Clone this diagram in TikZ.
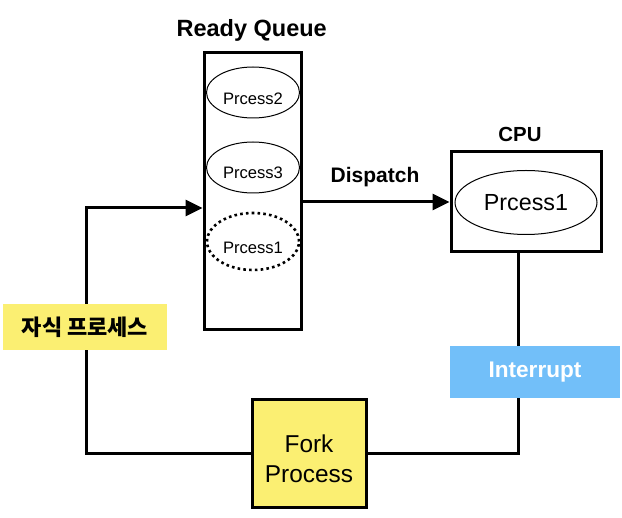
\documentclass[tikz,border=0pt]{standalone}
\usepackage{fontspec}
\setmainfont{Liberation Sans}
\newfontfamily\krfont{Noto Sans CJK KR}
\usetikzlibrary{arrows.meta,shapes.geometric}
\definecolor{yel}{RGB}{251,239,114}
\definecolor{sky}{RGB}{114,191,249}
\tikzset{
  thickbox/.style={draw, line width=3pt, rectangle, inner sep=0pt},
  proc/.style={draw, ellipse, line width=1pt, inner sep=0pt},
  ptext/.style={inner sep=0pt, font=\fontsize{16.6}{19}\selectfont},
  conn/.style={line width=3pt},
  tip/.style={-{Triangle[length=17pt,width=16pt]}},
  title/.style={inner sep=0pt, anchor=base, font=\bfseries\fontsize{21}{25}\selectfont},
}
\begin{document}
\begin{tikzpicture}[x=1pt,y=-1pt]
\useasboundingbox (0,0) rectangle (622,518);
% ready queue
\node[thickbox, minimum width=97pt, minimum height=277pt] (rq) at (252.5,191.5) {};
\node[title, font=\bfseries\fontsize{23.5}{28}\selectfont] (rql) at (251.7,37) {Ready Queue};
\node[proc, minimum width=93pt, minimum height=51pt] (p2) at (253,92.5) {};
\node[ptext] (p2t) at (253,99) {Prcess2};
\node[proc, minimum width=93pt, minimum height=51pt] (p3) at (253,167.5) {};
\node[ptext] (p3t) at (253,173) {Prcess3};
\node[proc, line width=2.6pt, dash pattern=on 2.6pt off 3.2pt, minimum width=92pt, minimum height=57pt] (p1) at (253,241.5) {};
\node[ptext] (p1t) at (253,248) {Prcess1};
% cpu
\node[thickbox, minimum width=150pt, minimum height=100pt] (cpu) at (526,202) {};
\node[title, font=\bfseries\fontsize{20.4}{24}\selectfont] (cpul) at (520,142) {CPU};
\node[proc, minimum width=142pt, minimum height=64pt, font=\fontsize{23.3}{27}\selectfont] (cp1) at (526,202.5) {Prcess1};
% fork
\node[thickbox, fill=yel, minimum width=114pt, minimum height=108pt] (fork) at (309,454) {};
\node[inner sep=0pt, align=center, font=\fontsize{24.4}{29.5}\selectfont] (forkt) at (309,459) {Fork\\Process};
% connectors
\draw[conn, tip] (rq.east |- cpu.west) -- (cpu.west);
\node[title] (dl) at (375,183) {Dispatch};
\coordinate (rc) at (518,454);
\draw[conn] (cpu.south -| rc) -- (rc) -- (fork.east);
\coordinate (lc) at (86,208);
\draw[conn, tip] (fork.west) -| (lc) -- (rq.west |- lc);
% labels
\node[fill=sky, minimum width=170pt, minimum height=52pt, inner sep=0pt, text=white, font=\bfseries\fontsize{22.6}{26}\selectfont] (intr) at (535,372) {Interrupt};
\node[fill=yel, minimum width=164pt, minimum height=46pt, inner sep=0pt, font=\krfont\bfseries\fontsize{22}{26}\selectfont] (kid) at (85,327) {자식 프로세스};
\end{tikzpicture}
\end{document}
